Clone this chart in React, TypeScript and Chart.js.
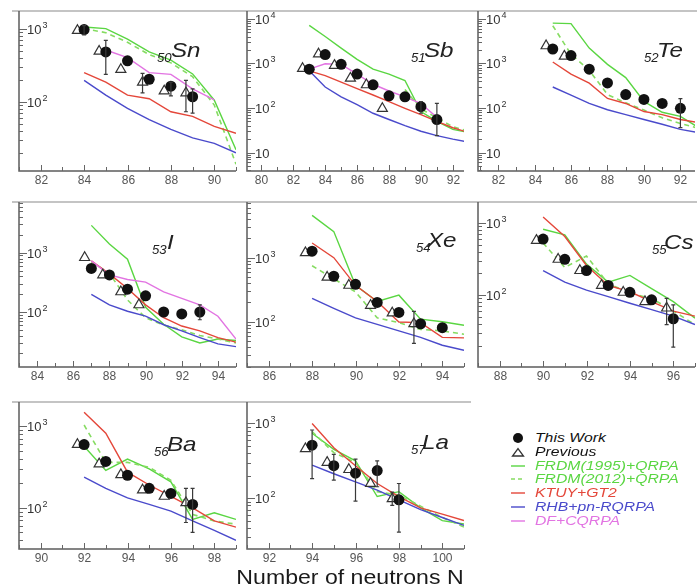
import React, { useEffect, useRef } from "react";
import { Chart, registerables } from "chart.js";

Chart.register(...registerables);

// ---------- 50Sn ----------
const snN = [84, 85, 86, 87, 88, 89];
const snThisWork = [970, 480, 363, 203, 163, 117];
const snThisErr = [[820, 1100], [237, 690], null, null, [120, 185], [70, 150]];
const snPrevN = [84, 85, 86, 87, 88, 89];
const snPrevious = [940, 490, 276, 185, 140, 132];
const snPrevErr = [null, null, null, [132, 244], null, [73, 196]];
const snModelN = [84, 85, 86, 87, 88, 89, 90, 91];
const snFrdm1995 = [1050, 1000, 720, 480, 370, 240, 105, 22];
const snFrdm2012 = [1000, 880, 650, 440, 340, 220, 90, 14];
const snKtuy = [250, 185, 123, 110, 73, 63, 46, 37];
const snRhb = [196, 123, 81, 57, 42, 32, 27, 20];
const snDf = [null, 510, 400, 250, 237, 150, 106, null];

// ---------- 51Sb ----------
const sbN = [83, 84, 85, 86, 87, 88, 89, 90, 91];
const sbThisWork = [740, 1575, 950, 575, 330, 187, 178, 107, 55];
const sbThisErr = [null, null, null, null, null, null, null, [76, 138], [24, 126]];
const sbPrevN = [83, 84, 85, 86, 87, 88];
const sbPrevious = [765, 1620, 900, 462, 330, 97];
const sbPrevErr = [null, null, null, null, null, null];
const sbModelN = [83, 84, 85, 86, 87, 88, 89, 90, 91, 92, 93];
const sbFrdm1995 = [7100, 4000, 2200, 1230, 740, 575, 412, 83, 50, 33, 28];
const sbFrdm2012 = [null, null, null, null, null, null, 260, 95, 60, 38, 30];
const sbKtuy = [680, 530, 380, 270, 195, 138, 98, 71, 50, 36, 28];
const sbRhb = [680, 295, 178, 118, 76, 55, 40, 30, 24, 20, 17];
const sbDf = [740, 980, 950, 575, 340, 240, 178, 125, 62, null, null];

// ---------- 52Te ----------
const teN = [85, 86, 87, 88, 89, 90, 91, 92];
const teThisWork = [2100, 1500, 740, 365, 200, 155, 126, 98];
const teThisErr = [null, null, null, null, null, null, null, [36, 162]];
const tePrevN = [85, 86];
const tePrevious = [2470, 1450];
const tePrevErr = [null, null];
const teModelN = [85, 86, 87, 88, 89, 90, 91, 92, 93];
const teFrdm1995 = [8000, 7800, 2200, 950, 480, 140, 80, 65, 36];
const teFrdm2012 = [7000, 1600, 700, 200, 130, 90, 60, 45, 35];
const teKtuy = [1075, 575, 360, 163, 126, 83, 71, 55, 47];
const teRhb = [295, 195, 126, 91, 71, 55, 43, 33, 28];
const teDf = [null, null, null, null, null, null, null, null, null];

// ---------- 53I ----------
const iN = [87, 88, 89, 90, 91, 92, 93];
const iThisWork = [545, 423, 243, 188, 100, 93, 100];
const iThisErr = [null, null, null, null, null, null, [74, 132]];
const iPrevN = [87, 88, 89, 90];
const iPrevious = [828, 423, 219, 132];
const iPrevErr = [null, null, null, null];
const iModelN = [87, 88, 89, 90, 91, 92, 93, 94, 95];
const iFrdm1995 = [2900, 1400, 780, 120, 62, 38, 30, 35, 33];
const iFrdm2012 = [700, 450, 160, 80, 60, 50, 40, 35, 30];
const iKtuy = [730, 440, 250, 132, 80, 58, 48, 37, 31];
const iRhb = [198, 132, 103, 85, 61, 48, 37, 29, 26];
const iDf = [730, 423, 354, 320, 219, 170, 132, 85, 35];

// ---------- 54Xe ----------
const xeN = [88, 89, 90, 91, 92, 93, 94];
const xeThisWork = [1260, 513, 384, 200, 140, 93, 81];
const xeThisErr = [null, null, null, null, null, null, null];
const xePrevN = [88, 89, 90, 91, 92, 93];
const xePrevious = [1190, 495, 370, 180, 137, 93];
const xePrevErr = [null, null, null, null, null, [46, 145]];
const xeModelN = [88, 89, 90, 91, 92, 93, 94, 95];
const xeFrdm1995 = [4570, 2550, 370, 207, 260, 110, 100, 88];
const xeFrdm2012 = [747, 467, 293, 115, 97, 76, 72, 64];
const xeKtuy = [1690, 1000, 370, 207, 99, 97, 57, 56];
const xeRhb = [232, 162, 115, 91, 72, 57, 43, 36];
const xeDf = [null, null, null, null, null, null, null, null];

// ---------- 55Cs ----------
const csN = [90, 91, 92, 93, 94, 95, 96];
const csThisWork = [595, 312, 218, 136, 109, 86, 47];
const csThisErr = [null, null, null, null, null, null, [19, 73]];
const csPrevN = [90, 91, 92, 93, 94, 95, 96];
const csPrevious = [571, 312, 218, 136, 109, 81, 66];
const csPrevErr = [null, null, null, null, null, null, [39, 90]];
const csModelN = [90, 91, 92, 93, 94, 95, 96, 97];
const csFrdm1995 = [813, 681, 268, 151, 187, 123, 81, 48];
const csFrdm2012 = [525, 241, 347, 144, 106, 90, 60, 39];
const csKtuy = [1205, 647, 257, 136, 111, 81, 60, 51];
const csRhb = [218, 151, 117, 95, 77, 63, 51, 39];
const csDf = [null, null, null, null, null, null, null, null];

// ---------- 56Ba ----------
const baN = [92, 93, 94, 95, 96, 97];
const baThisWork = [594, 369, 250, 173, 150, 110];
const baThisErr = [null, null, null, null, null, [50, 173]];
const baPrevN = [92, 93, 94, 95, 96, 97];
const baPrevious = [594, 344, 254, 165, 138, 115];
const baPrevErr = [null, null, null, null, null, [66, 173]];
const baModelN = [92, 93, 94, 95, 96, 97, 98, 99];
const baFrdm1995 = [567, 286, 394, 299, 208, 72, 87, 72];
const baFrdm2012 = [1030, 359, 359, 313, 217, 83, 69, 63];
const baKtuy = [1480, 818, 273, 190, 138, 100, 69, 58];
const baRhb = [238, 173, 132, 110, 91, 69, 53, 40];
const baDf = [null, null, null, null, null, null, null, null];

// ---------- 57La ----------
const laN = [94, 95, 96, 97, 98];
const laThisWork = [512, 272, 216, 234, 95];
const laThisErr = [[182, 818], [174, 386], [91, 333], [142, 316], [35, 157]];
const laPrevN = [94, 95, 96, 97, 98];
const laPrevious = [458, 301, 241, 157, 98];
const laPrevErr = [null, null, null, null, [80, 120]];
const laModelN = [94, 95, 96, 97, 98, 99, 100, 101];
const laFrdm1995 = [740, 449, 316, 105, 122, 74, 50, 45];
const laFrdm2012 = [780, 407, 301, 122, 110, 78, 55, 41];
const laKtuy = [1000, 472, 272, 157, 105, 74, 61, 50];
const laRhb = [277, 212, 165, 128, 95, 70, 55, 43];
const laDf = [null, null, null, null, null, null, null, null];

// ---------- colours / fonts ----------
const GREEN = "#5ad642";
const GREEN_DASH = "#86dc62";
const RED = "#e4473a";
const BLUE = "#4a4acb";
const MAGENTA = "#e274e2";
const FONT = '"Liberation Sans", Arial, Helvetica, sans-serif';

type Err = number[] | null;
type Vals = (number | null)[];

interface PanelSpec {
  sub: string;
  sym: string;
  col: number;
  row: number;
  xMin: number;
  xMax: number;
  yMin: number;
  yMax: number;
  title: number[]; // subscript x, symbol x, baseline (relative to plot area)
  n: number[];
  thisWork: Vals;
  thisErr: Err[];
  prevN: number[];
  prev: Vals;
  prevErr: Err[];
  modelN: number[];
  frdm1995: Vals;
  frdm2012: Vals;
  ktuy: Vals;
  rhb: Vals;
  df: Vals;
}

const panels: PanelSpec[] = [
  { sub: "50", sym: "Sn", col: 0, row: 0, xMin: 81, xMax: 91, yMin: 11.3, yMax: 1740, title: [138, 152, 46],
    n: snN, thisWork: snThisWork, thisErr: snThisErr, prevN: snPrevN, prev: snPrevious, prevErr: snPrevErr,
    modelN: snModelN, frdm1995: snFrdm1995, frdm2012: snFrdm2012, ktuy: snKtuy, rhb: snRhb, df: snDf },
  { sub: "51", sym: "Sb", col: 1, row: 0, xMin: 79.1, xMax: 92.7, yMin: 3.85, yMax: 14960, title: [164, 177, 46],
    n: sbN, thisWork: sbThisWork, thisErr: sbThisErr, prevN: sbPrevN, prev: sbPrevious, prevErr: sbPrevErr,
    modelN: sbModelN, frdm1995: sbFrdm1995, frdm2012: sbFrdm2012, ktuy: sbKtuy, rhb: sbRhb, df: sbDf },
  { sub: "52", sym: "Te", col: 2, row: 0, xMin: 80.9, xMax: 92.8, yMin: 3.85, yMax: 14960, title: [166, 179, 46],
    n: teN, thisWork: teThisWork, thisErr: teThisErr, prevN: tePrevN, prev: tePrevious, prevErr: tePrevErr,
    modelN: teModelN, frdm1995: teFrdm1995, frdm2012: teFrdm2012, ktuy: teKtuy, rhb: teRhb, df: teDf },
  { sub: "53", sym: "I", col: 0, row: 1, xMin: 83, xMax: 95, yMin: 11.8, yMax: 7190, title: [133, 148, 47],
    n: iN, thisWork: iThisWork, thisErr: iThisErr, prevN: iPrevN, prev: iPrevious, prevErr: iPrevErr,
    modelN: iModelN, frdm1995: iFrdm1995, frdm2012: iFrdm2012, ktuy: iKtuy, rhb: iRhb, df: iDf },
  { sub: "54", sym: "Xe", col: 1, row: 1, xMin: 85, xMax: 95, yMin: 19.7, yMax: 7380, title: [169, 180, 45],
    n: xeN, thisWork: xeThisWork, thisErr: xeThisErr, prevN: xePrevN, prev: xePrevious, prevErr: xePrevErr,
    modelN: xeModelN, frdm1995: xeFrdm1995, frdm2012: xeFrdm2012, ktuy: xeKtuy, rhb: xeRhb, df: xeDf },
  { sub: "55", sym: "Cs", col: 2, row: 1, xMin: 87, xMax: 97, yMin: 10.1, yMax: 1940, title: [174, 186, 47],
    n: csN, thisWork: csThisWork, thisErr: csThisErr, prevN: csPrevN, prev: csPrevious, prevErr: csPrevErr,
    modelN: csModelN, frdm1995: csFrdm1995, frdm2012: csFrdm2012, ktuy: csKtuy, rhb: csRhb, df: csDf },
  { sub: "56", sym: "Ba", col: 0, row: 2, xMin: 89, xMax: 99, yMin: 31.3, yMax: 1970, title: [135, 148, 49],
    n: baN, thisWork: baThisWork, thisErr: baThisErr, prevN: baPrevN, prev: baPrevious, prevErr: baPrevErr,
    modelN: baModelN, frdm1995: baFrdm1995, frdm2012: baFrdm2012, ktuy: baKtuy, rhb: baRhb, df: baDf },
  { sub: "57", sym: "La", col: 1, row: 2, xMin: 91, xMax: 101, yMin: 20.8, yMax: 1940, title: [164, 175, 47],
    n: laN, thisWork: laThisWork, thisErr: laThisErr, prevN: laPrevN, prev: laPrevious, prevErr: laPrevErr,
    modelN: laModelN, frdm1995: laFrdm1995, frdm2012: laFrdm2012, ktuy: laKtuy, rhb: laRhb, df: laDf },
];

// plot-area grid
const COL_LEFT = [15, 243, 474];
const ROW_SPAN = [[7, 171], [198, 367], [398, 549]];
const PLOT_W = 228;
const PAD_L = 3;
const PAD_T = 3;
const PAD_B = 22;
const PREV_SHIFT_PX = 7; // "Previous" markers drawn slightly left of their N

function toPoints(ns: number[], vals: Vals, shift = 0) {
  const out: { x: number; y: number }[] = [];
  ns.forEach((n, i) => {
    const v = vals[i];
    if (v != null) out.push({ x: n - shift, y: v });
  });
  return out;
}

function lineSet(data: { x: number; y: number }[], color: string, dash: number[] = []) {
  return {
    data,
    showLine: true,
    borderColor: color,
    borderWidth: dash.length ? 1.6 : 1.4,
    borderDash: dash,
    pointRadius: 0,
    fill: false,
    tension: 0,
  };
}

function Panel({ spec }: { spec: PanelSpec }) {
  const ref = useRef<HTMLCanvasElement | null>(null);
  const [top, bottom] = ROW_SPAN[spec.row];
  const left = COL_LEFT[spec.col];
  const w = PLOT_W + PAD_L;
  const h = bottom - top + PAD_T + PAD_B;

  useEffect(() => {
    const canvas = ref.current;
    if (!canvas) return;
    const shift = PREV_SHIFT_PX * (spec.xMax - spec.xMin) / PLOT_W;

    const bars: { x: number; lo: number; hi: number }[] = [];
    spec.n.forEach((n, i) => {
      const e = spec.thisErr[i];
      if (e) bars.push({ x: n, lo: e[0], hi: e[1] });
    });
    spec.prevN.forEach((n, i) => {
      const e = spec.prevErr[i];
      if (e) bars.push({ x: n - shift, lo: e[0], hi: e[1] });
    });

    const decor = {
      id: "panelDecor",
      afterDatasetsDraw(chart: any) {
        const { ctx } = chart;
        const xs = chart.scales.x;
        const ys = chart.scales.y;
        ctx.save();
        ctx.strokeStyle = "#3a3a3a";
        ctx.lineWidth = 1.2;
        bars.forEach((b) => {
          const px = xs.getPixelForValue(b.x);
          const p1 = ys.getPixelForValue(b.lo);
          const p2 = ys.getPixelForValue(b.hi);
          ctx.beginPath();
          ctx.moveTo(px, p1);
          ctx.lineTo(px, p2);
          ctx.moveTo(px - 2, p1);
          ctx.lineTo(px + 2, p1);
          ctx.moveTo(px - 2, p2);
          ctx.lineTo(px + 2, p2);
          ctx.stroke();
        });
        ctx.restore();
      },
      afterDraw(chart: any) {
        const { ctx, chartArea: a } = chart;
        const xs = chart.scales.x;
        const ys = chart.scales.y;
        ctx.save();

        // top frame line
        ctx.strokeStyle = "#c4c4c4";
        ctx.lineWidth = 2;
        ctx.beginPath();
        ctx.moveTo(0, a.top);
        ctx.lineTo(chart.width, a.top);
        ctx.stroke();

        // axis lines
        ctx.strokeStyle = "#5c5c5c";
        ctx.lineWidth = 1.5;
        ctx.beginPath();
        ctx.moveTo(a.left, a.top);
        ctx.lineTo(a.left, a.bottom);
        ctx.lineTo(a.right, a.bottom);
        ctx.stroke();

        // log ticks pointing inwards, with decade labels inside the frame
        ctx.lineWidth = 1;
        ctx.strokeStyle = "#666";
        const e0 = Math.floor(Math.log10(ys.min));
        const e1 = Math.ceil(Math.log10(ys.max));
        for (let e = e0; e <= e1; e++) {
          for (let m = 1; m <= 9; m++) {
            const v = m * Math.pow(10, e);
            if (v < ys.min || v > ys.max) continue;
            const py = Math.round(ys.getPixelForValue(v)) + 0.5;
            const len = m === 1 ? 8 : 4;
            ctx.beginPath();
            ctx.moveTo(a.left, py);
            ctx.lineTo(a.left + len, py);
            ctx.stroke();
            if (m === 1) {
              ctx.fillStyle = "#333";
              ctx.textAlign = "left";
              ctx.textBaseline = "middle";
              ctx.font = `13px ${FONT}`;
              const lx = a.left + 8;
              ctx.fillText("10", lx, py + 1);
              if (e > 1) {
                const tw = ctx.measureText("10").width;
                ctx.font = `9px ${FONT}`;
                ctx.fillText(String(e), lx + tw + 1, py - 4);
              }
            }
          }
        }

        // x ticks and labels
        ctx.strokeStyle = "#666";
        ctx.fillStyle = "#555";
        ctx.font = `12px ${FONT}`;
        ctx.textAlign = "center";
        ctx.textBaseline = "middle";
        for (let n = Math.ceil(xs.min); n <= Math.floor(xs.max); n++) {
          const px = Math.round(xs.getPixelForValue(n)) + 0.5;
          const even = n % 2 === 0;
          ctx.beginPath();
          ctx.moveTo(px, a.bottom);
          ctx.lineTo(px, a.bottom - (even ? 6 : 4));
          ctx.stroke();
          if (even) ctx.fillText(String(n), px, a.bottom + 10);
        }

        // element title, e.g. ₅₀Sn
        const [sx, tx, base] = spec.title;
        ctx.fillStyle = "#222";
        ctx.textAlign = "left";
        ctx.textBaseline = "alphabetic";
        ctx.save();
        ctx.translate(a.left + sx, a.top + base + 5);
        ctx.scale(1.1, 1);
        ctx.font = `italic 12px ${FONT}`;
        ctx.fillText(spec.sub, 0, 0);
        ctx.restore();
        ctx.save();
        ctx.translate(a.left + tx, a.top + base);
        ctx.scale(1.15, 1);
        ctx.font = `italic 21px ${FONT}`;
        ctx.fillText(spec.sym, 0, 0);
        ctx.restore();

        ctx.restore();
      },
    };

    const chart = new Chart(canvas, {
      type: "scatter",
      data: {
        datasets: [
          {
            data: toPoints(spec.n, spec.thisWork),
            pointStyle: "circle",
            pointRadius: 5.5,
            pointBackgroundColor: "#111",
            pointBorderColor: "#111",
            pointBorderWidth: 0,
            showLine: false,
          },
          {
            data: toPoints(spec.prevN, spec.prev, shift),
            pointStyle: "triangle",
            pointRadius: 5.8,
            pointBackgroundColor: "#fff",
            pointBorderColor: "#333",
            pointBorderWidth: 1.2,
            showLine: false,
          },
          lineSet(toPoints(spec.modelN, spec.df), MAGENTA),
          lineSet(toPoints(spec.modelN, spec.rhb), BLUE),
          lineSet(toPoints(spec.modelN, spec.ktuy), RED),
          lineSet(toPoints(spec.modelN, spec.frdm2012), GREEN_DASH, [5, 4]),
          lineSet(toPoints(spec.modelN, spec.frdm1995), GREEN),
        ] as any,
      },
      options: {
        responsive: false,
        animation: false,
        events: [],
        layout: { padding: { left: PAD_L, right: 0, top: PAD_T, bottom: PAD_B } },
        plugins: { legend: { display: false }, tooltip: { enabled: false } },
        scales: {
          x: { type: "linear", min: spec.xMin, max: spec.xMax, display: false, bounds: "data" },
          y: { type: "logarithmic", min: spec.yMin, max: spec.yMax, display: false, bounds: "data" },
        },
      } as any,
      plugins: [decor as any],
    });
    return () => chart.destroy();
  }, [spec]);

  return (
    <canvas
      ref={ref}
      width={w}
      height={h}
      style={{ position: "absolute", left: left - PAD_L, top: top - PAD_T, width: w, height: h }}
    />
  );
}

const legendItems = [
  { label: "This Work", color: "#111", mark: "dot" },
  { label: "Previous", color: "#111", mark: "tri" },
  { label: "FRDM(1995)+QRPA", color: GREEN, mark: "line" },
  { label: "FRDM(2012)+QRPA", color: GREEN, mark: "dash" },
  { label: "KTUY+GT2", color: RED, mark: "line" },
  { label: "RHB+pn-RQRPA", color: BLUE, mark: "line" },
  { label: "DF+CQRPA", color: MAGENTA, mark: "line" },
];

function LegendMark({ mark, color }: { mark: string; color: string }) {
  return (
    <svg width={18} height={14} style={{ position: "absolute", left: 0, top: 0 }}>
      {mark === "dot" && <circle cx={9} cy={7} r={5} fill="#111" />}
      {mark === "tri" && <polygon points="3.5,11 14.5,11 9,3.5" fill="#fff" stroke="#333" strokeWidth={1.3} />}
      {mark === "line" && <line x1={2} y1={7} x2={16} y2={7} stroke={color} strokeWidth={1.4} />}
      {mark === "dash" && <line x1={2} y1={7} x2={16} y2={7} stroke={GREEN_DASH} strokeWidth={1.5} strokeDasharray="4 3" />}
    </svg>
  );
}

export default function App() {
  return (
    <div
      style={{
        position: "fixed",
        left: 0,
        top: 0,
        width: 697,
        height: 588,
        overflow: "hidden",
        background: "#fff",
      }}
    >
      {panels.map((p) => (
        <Panel key={p.sym} spec={p} />
      ))}

      {legendItems.map((it, i) => (
        <div key={it.label} style={{ position: "absolute", left: 509, top: 431 + i * 13.8, height: 14, width: 190 }}>
          <LegendMark mark={it.mark} color={it.color} />
          <div
            style={{
              position: "absolute",
              left: 26,
              top: 0,
              font: `italic 12.5px ${FONT}`,
              lineHeight: "14px",
              color: it.color,
              whiteSpace: "nowrap",
              transform: "scaleX(1.26)",
              transformOrigin: "left center",
            }}
          >
            {it.label}
          </div>
        </div>
      ))}

      <div
        style={{
          position: "absolute",
          left: 350,
          top: 565,
          font: `21px ${FONT}`,
          lineHeight: "24px",
          color: "#1a1a1a",
          whiteSpace: "nowrap",
          transform: "translateX(-50%) scaleX(1.1)",
        }}
      >
        Number of neutrons N
      </div>
    </div>
  );
}
